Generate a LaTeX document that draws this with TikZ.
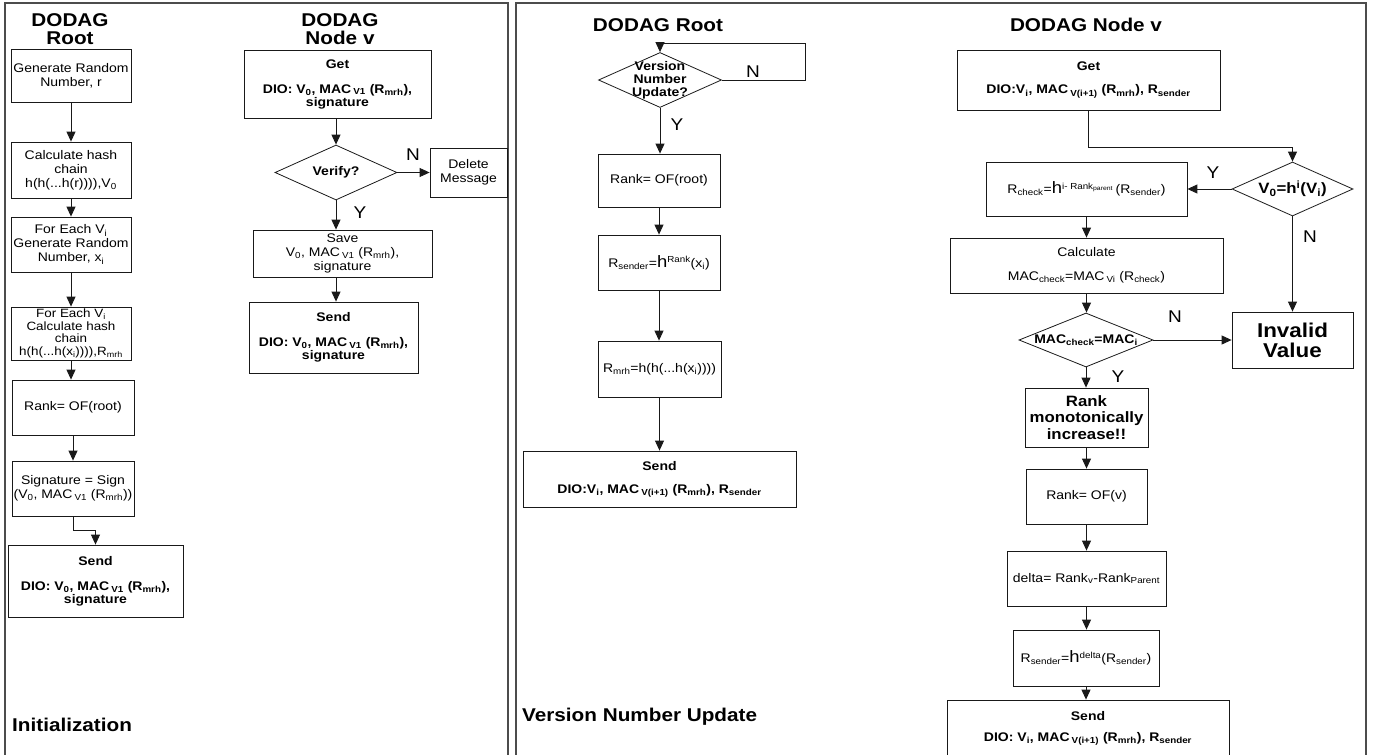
\documentclass[tikz,border=0pt]{standalone}
\usepackage{fontspec}
\setmainfont{Liberation Sans}[FakeStretch=1.12]
\usetikzlibrary{arrows.meta}
\usetikzlibrary{shapes.geometric}

\newcommand\boxfont{\fontsize{12.5}{14}\selectfont}
\newcommand\bigh{{\fontsize{16.5}{16}\selectfont h}}

\tikzset{
  box/.style 2 args={draw=black!90, line width=0.8pt, align=center, inner sep=1pt,
    minimum width=#1pt, minimum height=#2pt, font=\boxfont},
  bold/.style={font=\bfseries\fontsize{12.5}{13}\selectfont},
  dec/.style 2 args={draw=black!90, line width=0.8pt, diamond, aspect=2.2, inner sep=0pt,
    minimum width=#1pt, minimum height=#2pt},
  dectxt/.style={align=center, inner sep=0pt, font=\bfseries\fontsize{12.5}{13}\selectfont},
  flow/.style={draw=black!90, line width=0.9pt, -{Triangle[length=10pt,width=9pt]}},
  ttl/.style={align=center, inner sep=0pt, font=\bfseries\fontsize{18.5}{18}\selectfont},
  yn/.style={inner sep=0pt, font=\fontsize{17}{17}\selectfont},
  panel/.style={draw=black!70, line width=1.6pt},
}

\begin{document}
\begin{tikzpicture}[x=1pt,y=-1pt]
  \useasboundingbox (0,0) rectangle (1374,755);

  % the two panels
  \draw[panel] (5,760) |- (508,3) -- (508,760);
  \draw[panel] (516,760) |- (1366,3) -- (1366,760);

  \node[ttl] (t1) at (70,29) {DODAG\\Root};
  \node[ttl] (t2) at (340,29) {DODAG\\Node v};
  \node[ttl] (t3) at (658,25) {DODAG Root};
  \node[ttl] (t4) at (1086,25) {DODAG Node v};
  \node[ttl, anchor=west] (t5) at (12,725) {Initialization};
  \node[ttl, anchor=west] (t6) at (522,717) {Version Number Update};

  % initialization, root
  \node[box={120}{53}] (gen) at (71,75.5) {Generate Random\\Number, r};
  \node[box={120}{56}] (hash) at (71,170) {Calculate hash\\chain\\h(h(...h(r)))),V\textsubscript{0}};
  \node[box={120}{55}] (each) at (71,244.5) {For Each V\textsubscript{i}\\Generate Random\\Number, x\textsubscript{i}};
  \node[box={120}{53}, font=\fontsize{12}{12.5}\selectfont] (chain) at (71,333.5) {For Each V\textsubscript{i}\\Calculate hash\\chain\\h(h(...h(x\textsubscript{i})))),R\textsubscript{mrh}};
  \node[box={122}{55}] (rank) at (73,407.5) {Rank= OF(root)};
  \node[box={122}{55}] (sign) at (73,488.5) {Signature = Sign\\(V\textsubscript{0}, MAC\,\textsubscript{V1} (R\textsubscript{mrh}))};
  \node[box={175}{72}, bold] (send1) at (95.5,581) {Send\\[12pt]DIO: V\textsubscript{0}, MAC\,\textsubscript{V1} (R\textsubscript{mrh}),\\signature};

  \foreach \a/\b in {gen/hash, hash/each, each/chain, chain/rank, rank/sign}
    \draw[flow] (\a.south) -- (\a.south |- \b.north);
  \draw[flow] (sign.south) -- ++(0,14) -| (send1.north);

  % initialization, node v
  \node[box={187}{68}, bold] (getL) at (337.5,84) {Get\\[12pt]DIO: V\textsubscript{0}, MAC\,\textsubscript{V1} (R\textsubscript{mrh}),\\signature};
  \node[dec={122}{55}, dectxt] (verify) at (336,172.5) {Verify?};
  \node[box={77}{49}] (del) at (468.5,172.5) {Delete\\Message};
  \node[box={179}{47}] (save) at (342.5,253.5) {Save\\V\textsubscript{0}, MAC\,\textsubscript{V1} (R\textsubscript{mrh}),\\signature};
  \node[box={169}{71}, bold] (sendL) at (333.5,337.5) {Send\\[12pt]DIO: V\textsubscript{0}, MAC\,\textsubscript{V1} (R\textsubscript{mrh}),\\signature};

  \draw[flow] (verify.north |- getL.south) -- (verify.north);
  \draw[flow] (verify.east) -- (del.west);
  \draw[flow] (verify.south) -- (verify.south |- save.north);
  \draw[flow] (verify.south |- save.south) -- (verify.south |- sendL.north);
  \node[yn] (nL) at (413,155) {N};
  \node[yn] (yL) at (360,213) {Y};

  % version number update, root
  \node[dec={123}{55}] (upd) at (660,80) {};
  \node[dectxt] (updtxt) at (upd) {Version\\Number\\Update?};
  \coordinate (loop) at (805,43);
  \draw[flow] (upd.east) -| (loop) -| (upd.north);
  \node[box={122}{53}] (rk) at (659,180.5) {Rank= OF(root)};
  \node[box={122}{55}] (rs) at (659,262.5) {R\textsubscript{sender}=\bigh\textsuperscript{Rank}(x\textsubscript{i})};
  \node[box={123}{56}] (rm) at (659.5,369) {R\textsubscript{mrh}=h(h(...h(x\textsubscript{i}))))};
  \node[box={273}{56}, bold] (send3) at (659.5,479) {Send\\[10pt]DIO:V\textsubscript{i}, MAC\,\textsubscript{V(i+1)} (R\textsubscript{mrh}), R\textsubscript{sender}};

  \draw[flow] (upd.south) -- (upd.south |- rk.north);
  \foreach \a/\b in {rk/rs, rs/rm, rm/send3}
    \draw[flow] (\a.south) -- (\a.south |- \b.north);
  \node[yn] (nU) at (753,72) {N};
  \node[yn] (yU) at (677,125) {Y};

  % version number update, node v
  \node[box={263}{60}, bold] (get2) at (1088.5,80) {Get\\[10pt]DIO:V\textsubscript{i}, MAC\,\textsubscript{V(i+1)} (R\textsubscript{mrh}), R\textsubscript{sender}};
  \node[dec={121}{54}, dectxt, font=\bfseries\fontsize{15}{15}\selectfont] (vchk) at (1292.5,189) {V\textsubscript{0}=h\textsuperscript{i}(V\textsubscript{i})};
  \node[box={201}{54}] (rchk) at (1086.5,189) {R\textsubscript{check}=\bigh\textsuperscript{i- Rank\textsubscript{parent}}\,(R\textsubscript{sender})};
  \node[box={273}{55}] (calc) at (1086.5,265.5) {Calculate\\[10pt]MAC\textsubscript{check}=MAC\,\textsubscript{Vi} (R\textsubscript{check})};
  \node[dec={134}{54}] (mac) at (1086,340) {};
  \node[dectxt] (mactxt) at (mac) {MAC\textsubscript{check}=MAC\textsubscript{i}};
  \node[box={121}{56}, font=\bfseries\fontsize{20}{20}\selectfont] (inval) at (1292.5,340) {Invalid\\Value};
  \node[box={123}{59}, font=\bfseries\fontsize{15}{16.5}\selectfont] (mono) at (1086.5,417.5) {Rank\\monotonically\\increase!!};
  \node[box={121}{55}] (rankv) at (1086.5,496.5) {Rank= OF(v)};
  \node[box={159}{55}] (delta) at (1086.5,578.5) {delta= Rank\textsubscript{v}-Rank\textsubscript{Parent}};
  \node[box={146}{56}] (rsend) at (1086,658) {R\textsubscript{sender}=\bigh\textsuperscript{delta}(R\textsubscript{sender})};
  \node[box={282}{56}, bold] (send4) at (1088,728) {Send\\[8pt]DIO: V\textsubscript{i}, MAC\,\textsubscript{V(i+1)} (R\textsubscript{mrh}), R\textsubscript{sender}};

  \draw[flow] (get2.south) -- ++(0,37) -| (vchk.north);
  \draw[flow] (vchk.west) -- (rchk.east);
  \draw[flow] (vchk.south) -- (inval.north);
  \draw[flow] (mac.east) -- (inval.west);
  \foreach \a/\b in {rchk/calc, calc/mac, mac/mono, mono/rankv, rankv/delta, delta/rsend, rsend/send4}
    \draw[flow] (\a.south) -- (\a.south |- \b.north);
  \node[yn] (yV) at (1213,173) {Y};
  \node[yn] (nV) at (1310,237) {N};
  \node[yn] (nM) at (1175,317) {N};
  \node[yn] (yM) at (1118,377) {Y};

\end{tikzpicture}
\end{document}
